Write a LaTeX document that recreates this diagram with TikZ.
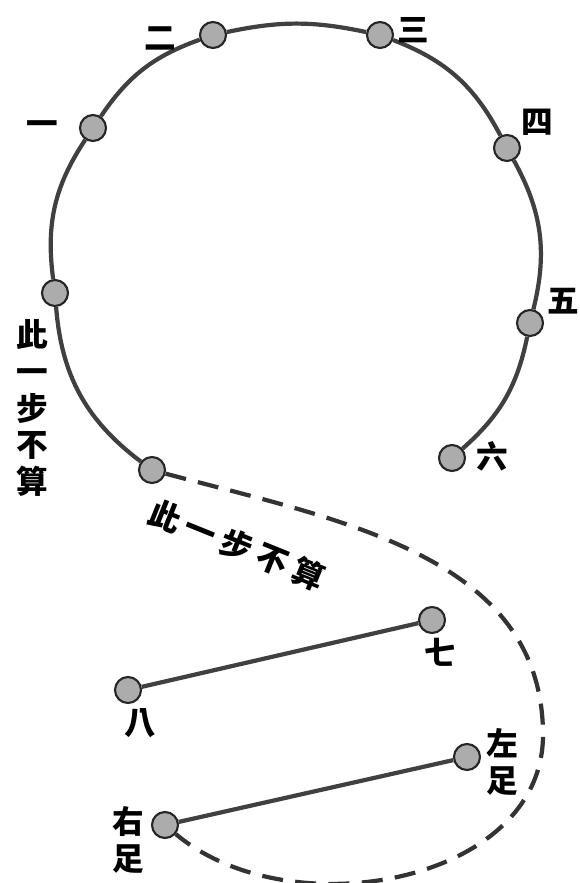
\documentclass[tikz,border=0pt]{standalone}
\usepackage{fontspec}
\newfontfamily\cjk{Noto Sans CJK TC}
\usetikzlibrary{arrows.meta,positioning}

\begin{document}
\begin{tikzpicture}[x=0.02cm, y=-0.02cm,
  dot/.style={draw=black!85, circle, fill=gray!65, line width=1.2pt, minimum size=0.52cm, inner sep=0pt},
  ring/.style={draw=black!75, line width=2.4pt},
  walk/.style={draw=black!80, line width=2.4pt, dash pattern=on 12pt off 7pt},
  lbl/.style={font=\cjk\bfseries\fontsize{18}{21}\selectfont, align=center, inner sep=0pt}]
  \useasboundingbox (0,0) rectangle (579,883);
  % dots on the ring
  \node[dot] (s) at (152,470) {};
  \node[dot] (d0) at (55,293) {};
  \node[dot] (d1) at (93,128) {};
  \node[dot] (d2) at (213,35) {};
  \node[dot] (d3) at (380,35) {};
  \node[dot] (d4) at (507,148) {};
  \node[dot] (d5) at (530,323) {};
  \node[dot] (d6) at (452,458) {};
  % the two lower lines
  \node[dot] (d7) at (432,620) {};
  \node[dot] (d8) at (128,690) {};
  \node[dot] (f1) at (467,757) {};
  \node[dot] (f2) at (165,825) {};
  \coordinate (turn) at (543,735);

  \foreach \a/\b/\t in {s/d0/24.2, d0/d1/20.5, d1/d2/18.2, d2/d3/12, d3/d4/20.6, d4/d5/21.4, d5/d6/18.5}
    \draw[ring] (\a) to[bend left=\t] (\b);
  \draw[ring] (d7) -- (d8);
  \draw[ring] (f1) -- (f2);
  \draw[walk] (s) to[out=-15, in=90] (turn) to[out=-90, in=-40] (f2);

  % labels
  \node[lbl] (n1) at (42,128) {一};
  \node[lbl] (n2) at (160,38) {二};
  \node[lbl] (n3) at (413,30) {三};
  \node[lbl] (n4) at (537,122) {四};
  \node[lbl] (n5) at (563,301) {五};
  \node[lbl] (n6) at (492,456) {六};
  \node[lbl] (n7) at (440,652) {七};
  \node[lbl] (n8) at (140,723) {八};
  \node[lbl] (nf1) at (502,762) {左\\足};
  \node[lbl] (nf2) at (128,840) {右\\足};
  \node[lbl] (skip1) at (32,408) {此\\一\\步\\不\\算};
  \node[lbl, rotate=-22] (skip2) at (237,545) {此\hspace{4pt}一\hspace{4pt}步\hspace{4pt}不\hspace{4pt}算};
\end{tikzpicture}
\end{document}
